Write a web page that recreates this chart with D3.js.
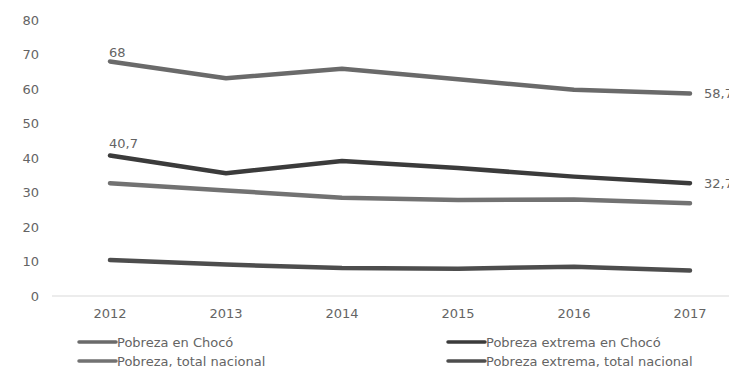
<!DOCTYPE html>
<html><head><meta charset="utf-8">
<script src="https://cdn.jsdelivr.net/npm/d3@7"></script>
<style>body{margin:0;background:#fff;} text{font-family:"DejaVu Sans",sans-serif;}</style>
</head><body><svg id="c" width="729" height="369"></svg>
<script>
const years = ["2012","2013","2014","2015","2016","2017"];
const seriesNames = ["Pobreza en Chocó","Pobreza extrema en Chocó","Pobreza, total nacional","Pobreza extrema, total nacional"];
const pobrezaChoco = [68, 63.1, 65.9, 62.8, 59.8, 58.7];
const extremaChoco = [40.7, 35.6, 39.1, 37.1, 34.6, 32.7];
const pobrezaNacional = [32.7, 30.6, 28.5, 27.8, 28.0, 26.9];
const extremaNacional = [10.4, 9.1, 8.1, 7.9, 8.5, 7.4];
const yTicks = [0,10,20,30,40,50,60,70,80];
const colors = ["#6a6a6a","#3b3b3b","#727272","#4d4d4d"];
const series = [pobrezaChoco, extremaChoco, pobrezaNacional, extremaNacional];
const FONT = "'DejaVu Sans',sans-serif";
const TXT = "#646464";

const svg = d3.select("#c");
const x = d3.scaleBand().domain(years).range([52, 748]);
const y = d3.scaleLinear().domain([0,80]).range([296, 20]);
const cx = d => x(d) + x.bandwidth()/2;

// baseline
svg.append("line").attr("x1",52).attr("x2",729).attr("y1",y(0)).attr("y2",y(0))
  .attr("stroke","#d9d9d9").attr("stroke-width",1);

// y axis
const yAxis = svg.append("g").attr("transform","translate(39,0)")
  .call(d3.axisLeft(y).tickValues(yTicks).tickSize(0).tickPadding(0));
yAxis.select(".domain").remove();
yAxis.selectAll("text").attr("font-size",13).attr("fill",TXT).style("font-family",FONT);

// x axis
const xAxis = svg.append("g").attr("transform",`translate(0,${y(0)})`)
  .call(d3.axisBottom(x).tickSize(0).tickPadding(13));
xAxis.select(".domain").remove();
xAxis.selectAll("text").attr("font-size",13).attr("fill",TXT).style("font-family",FONT);

const line = d3.line().x((d,i)=>cx(years[i])).y(d=>y(d));
series.forEach((s,k)=>{
  svg.append("path").datum(s).attr("d",line).attr("fill","none")
    .attr("stroke",colors[k]).attr("stroke-width",4.5).attr("stroke-linecap","round")
    .attr("stroke-linejoin","round");
});

// data labels
const fmt = v => String(v).replace(".",",");
[[0,0,-4],[1,0,-8],[0,5,5],[1,5,5]].forEach(([k,i,dy])=>{
  const first = i===0;
  svg.append("text")
    .attr("x", first ? cx(years[i]) - 1 : cx(years[i]) + 14)
    .attr("y", y(series[k][i]) + dy)
    .attr("font-size",13).attr("fill",TXT)
    .text(fmt(series[k][i]));
});

// legend
const leg = [[0,79,342],[1,448,342],[2,79,361],[3,448,361]];
leg.forEach(([k,lx,ly])=>{
  svg.append("line").attr("x1",lx).attr("x2",lx+37).attr("y1",ly).attr("y2",ly)
    .attr("stroke",colors[k]).attr("stroke-width",3.5).attr("stroke-linecap","round");
  svg.append("text").attr("x",lx+38).attr("y",ly+5).attr("font-size",13)
    .attr("fill",TXT).text(seriesNames[k]);
});
</script></body></html>
